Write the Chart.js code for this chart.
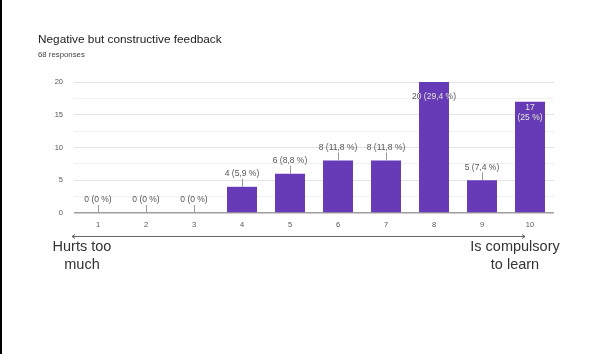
<!DOCTYPE html>
<html>
<head>
<meta charset="utf-8">
<script src="https://cdn.jsdelivr.net/npm/chart.js@4/dist/chart.umd.min.js"></script>
<style>
  html, body { margin: 0; padding: 0; background: #fff; }
  #wrap { position: relative; width: 589px; height: 354px; overflow: hidden; }
  #wrap::before { content: ""; position: absolute; left: 0; top: 0; width: 2px; height: 354px; background: #000; z-index: 2; }
  canvas { display: block; }
</style>
</head>
<body>
<div id="wrap"><canvas id="c" width="589" height="354"></canvas></div>
<script>
// Survey question and answer counts on a 1–10 scale
const chartTitle = "Negative but constructive feedback";
const categories = ["1", "2", "3", "4", "5", "6", "7", "8", "9", "10"];
const counts = [0, 0, 0, 4, 6, 8, 8, 20, 5, 17];
const yTicks = [0, 5, 10, 15, 20];
const scaleEnds = ["Hurts too\nmuch", "Is compulsory\nto learn"];

const total = counts.reduce((a, b) => a + b, 0);
const subtitle = total + " responses";

function pct(v) {
  const p = Math.round(v / total * 1000) / 10;
  return String(p).replace(".", ",") + " %";
}

const FONT = "Arial, 'Liberation Sans', sans-serif";
const PURPLE = "#673ab7";

// Titles, value annotations and the labelled scale arrow
const extras = {
  id: "extras",
  afterDatasetsDraw(chart) {
    const ctx = chart.ctx;
    const y = chart.scales.y;
    const meta = chart.getDatasetMeta(0);
    const ymax = y.max;
    ctx.save();
    ctx.textBaseline = "middle";

    // title block
    ctx.fillStyle = "#222";
    ctx.font = "11.8px " + FONT;
    ctx.textAlign = "left";
    ctx.fillText(chartTitle, 38, 40);
    ctx.fillStyle = "#444";
    ctx.font = "7.8px " + FONT;
    ctx.fillText(subtitle, 38, 55);

    // value annotations
    ctx.font = "8.5px " + FONT;
    ctx.textAlign = "center";
    counts.forEach((v, i) => {
      const bar = meta.data[i];
      const cx = bar.x;
      const top = bar.y;
      const half = bar.width / 2;
      const txt = v + " (" + pct(v) + ")";
      if (v >= ymax * 0.8) {
        // inside the bar: light where it covers the bar, grey where it spills over
        const lines = v === ymax ? [txt] : [String(v), "(" + pct(v) + ")"];
        lines.forEach((ln, k) => {
          const ly = top + (v === ymax ? 15 : 6 + k * 10);
          ctx.save();
          ctx.fillStyle = "#555";
          ctx.fillText(ln, cx, ly);
          ctx.beginPath();
          ctx.rect(cx - half, top, bar.width, y.bottom - top);
          ctx.clip();
          ctx.fillStyle = "#e8e0f5";
          ctx.fillText(ln, cx, ly);
          ctx.restore();
        });
      } else {
        const ly = top - 13;
        ctx.fillStyle = "#555";
        ctx.fillText(txt, cx, ly);
        ctx.strokeStyle = "#999";
        ctx.lineWidth = 1;
        ctx.beginPath();
        ctx.moveTo(Math.round(cx) + 0.5, ly + 5);
        ctx.lineTo(Math.round(cx) + 0.5, top);
        ctx.stroke();
      }
    });

    // scale arrow under the axis
    const ay = 236.5, ax0 = 72, ax1 = 525;
    ctx.strokeStyle = "#666";
    ctx.lineWidth = 1;
    ctx.beginPath();
    ctx.moveTo(ax0, ay); ctx.lineTo(ax1, ay);
    ctx.moveTo(ax0 + 3, ay - 2); ctx.lineTo(ax0, ay); ctx.lineTo(ax0 + 3, ay + 2);
    ctx.moveTo(ax1 - 3, ay - 2); ctx.lineTo(ax1, ay); ctx.lineTo(ax1 - 3, ay + 2);
    ctx.stroke();

    ctx.fillStyle = "#333";
    ctx.font = "14.5px " + FONT;
    scaleEnds[0].split("\n").forEach((ln, k) => ctx.fillText(ln, 82, 247 + k * 18));
    scaleEnds[1].split("\n").forEach((ln, k) => ctx.fillText(ln, 515, 247 + k * 18));
    ctx.restore();
  }
};

new Chart(document.getElementById("c"), {
  type: "bar",
  data: {
    labels: categories,
    datasets: [{
      data: counts,
      backgroundColor: PURPLE,
      borderWidth: 0,
      categoryPercentage: 1,
      barPercentage: 0.625
    }]
  },
  options: {
    responsive: false,
    animation: false,
    layout: { padding: { left: 0, top: 82, right: 35, bottom: 0 } },
    plugins: { legend: { display: false }, tooltip: { enabled: false } },
    scales: {
      x: {
        grid: { display: false, drawTicks: false },
        border: { display: false },
        ticks: { color: "#555", font: { size: 7.5, family: FONT }, padding: 7 },
        afterFit(s) { s.height = 141; }
      },
      y: {
        min: 0, max: 20,
        grid: {
          drawTicks: false,
          color: (c) => c.tick.value === 0 ? "#9e9e9e" : (c.tick.value % 5 === 0 ? "#e4e4e4" : "#f0f0f0"),
          lineWidth: (c) => c.tick.value === 0 ? 1.5 : 1
        },
        border: { display: false },
        ticks: {
          stepSize: 2.5,
          color: "#555",
          font: { size: 7.5, family: FONT },
          padding: 11,
          callback: (v) => yTicks.includes(v) ? String(v) : ""
        },
        afterFit(s) { s.width = 74; }
      }
    }
  },
  plugins: [extras]
});
</script>
</body>
</html>
